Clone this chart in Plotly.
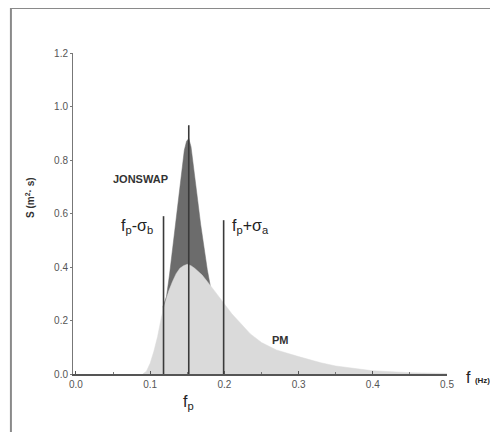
import plotly.graph_objects as go

# PM spectrum
pm_f = [0.090, 0.095, 0.100, 0.105, 0.110, 0.115, 0.120, 0.125, 0.130, 0.135, 0.140, 0.145, 0.150, 0.155,
        0.160, 0.170, 0.180, 0.190, 0.200, 0.210, 0.220, 0.235, 0.250, 0.270, 0.300, 0.330, 0.350, 0.400, 0.450, 0.500]
pm_s = [0.000, 0.010, 0.040, 0.085, 0.140, 0.210, 0.265, 0.310, 0.345, 0.375, 0.395, 0.405, 0.410, 0.405,
        0.395, 0.370, 0.335, 0.300, 0.262, 0.225, 0.195, 0.150, 0.118, 0.090, 0.065, 0.042, 0.030, 0.012, 0.005, 0.002]

# JONSWAP spectrum (only where it departs from PM)
js_f = [0.117, 0.122, 0.126, 0.131, 0.135, 0.140, 0.143, 0.146, 0.149, 0.152, 0.155, 0.158, 0.161, 0.164,
        0.168, 0.173, 0.177, 0.181]
js_s = [0.250, 0.290, 0.370, 0.490, 0.590, 0.700, 0.775, 0.836, 0.870, 0.880, 0.850, 0.790, 0.715, 0.650,
        0.560, 0.460, 0.390, 0.330]

# marker lines: position and top
line_f = [0.118, 0.152, 0.199]
line_top = [0.59, 0.93, 0.575]

x_ticks = [0.0, 0.1, 0.2, 0.3, 0.4, 0.5]
y_ticks = [0.0, 0.2, 0.4, 0.6, 0.8, 1.0, 1.2]

FONT = "Liberation Sans, Arial, sans-serif"

fig = go.Figure()
fig.add_trace(go.Scatter(x=js_f, y=js_s, mode="lines", fill="tozeroy",
                         line=dict(color="#6c6c6c", width=0.5), fillcolor="#6c6c6c",
                         hoverinfo="skip", showlegend=False))
fig.add_trace(go.Scatter(x=pm_f, y=pm_s, mode="lines", fill="tozeroy",
                         line=dict(color="#dadada", width=0.5), fillcolor="#dadada",
                         hoverinfo="skip", showlegend=False))
for f, top in zip(line_f, line_top):
    fig.add_trace(go.Scatter(x=[f, f], y=[0, top], mode="lines",
                             line=dict(color="#3a3a3a", width=1.6),
                             hoverinfo="skip", showlegend=False))

annotations = [
    dict(xref="x", yref="y", x=0.087, y=0.73, text="<b>JONSWAP</b>", showarrow=False,
         font=dict(size=11, color="#333")),
    dict(xref="x", yref="y", x=0.058, y=0.55, xanchor="left", text="f<sub>p</sub>-σ<sub>b</sub>",
         showarrow=False, font=dict(size=16, color="#222")),
    dict(xref="x", yref="y", x=0.208, y=0.55, xanchor="left", text="f<sub>p</sub>+σ<sub>a</sub>",
         showarrow=False, font=dict(size=16, color="#222")),
    dict(xref="x", yref="y", x=0.276, y=0.127, text="<b>PM</b>", showarrow=False,
         font=dict(size=11, color="#333")),
    dict(xref="x", yref="paper", x=0.152, y=-0.125, text="f<sub>p</sub>", showarrow=False,
         font=dict(size=16, color="#222")),
    dict(xref="paper", yref="paper", x=1.045, y=-0.01, xanchor="left", yanchor="middle",
         text="f <span style='font-size:8px'><b>(Hz)</b></span>", showarrow=False,
         font=dict(size=16, color="#222")),
    dict(xref="paper", yref="y", x=-0.135, y=0.66, textangle=-90, showarrow=False,
         text="<b>S (m<sup>2</sup>· s)</b>", font=dict(size=10, color="#333")),
]

fig.update_layout(
    width=490, height=424,
    margin=dict(l=65, r=51, t=45, b=58),
    paper_bgcolor="white", plot_bgcolor="white",
    font=dict(family=FONT),
    annotations=annotations,
    shapes=[dict(type="rect", xref="paper", yref="paper", x0=-0.166, x1=1.3, y0=-0.4, y1=1.14,
                 line=dict(color="#8a8a8a", width=2), layer="below")],
    xaxis=dict(range=[-0.004, 0.5], tickvals=x_ticks, ticktext=[f"{v:.1f}" for v in x_ticks],
               showgrid=False, zeroline=False, showline=True, linecolor="#555", linewidth=1.5,
               ticks="inside", ticklen=3, tickcolor="#555",
               minor=dict(dtick=0.05, tick0=0, ticks="inside", ticklen=2, tickcolor="#777"),
               tickfont=dict(size=10, color="#555")),
    yaxis=dict(range=[0, 1.2], tickvals=y_ticks, ticktext=[f"{v:.1f}" for v in y_ticks],
               showgrid=False, zeroline=False, showline=True, linecolor="#777", linewidth=1,
               ticks="outside", ticklen=2, tickcolor="#777",
               tickfont=dict(size=10, color="#555")),
)

fig.write_html("out.html")
